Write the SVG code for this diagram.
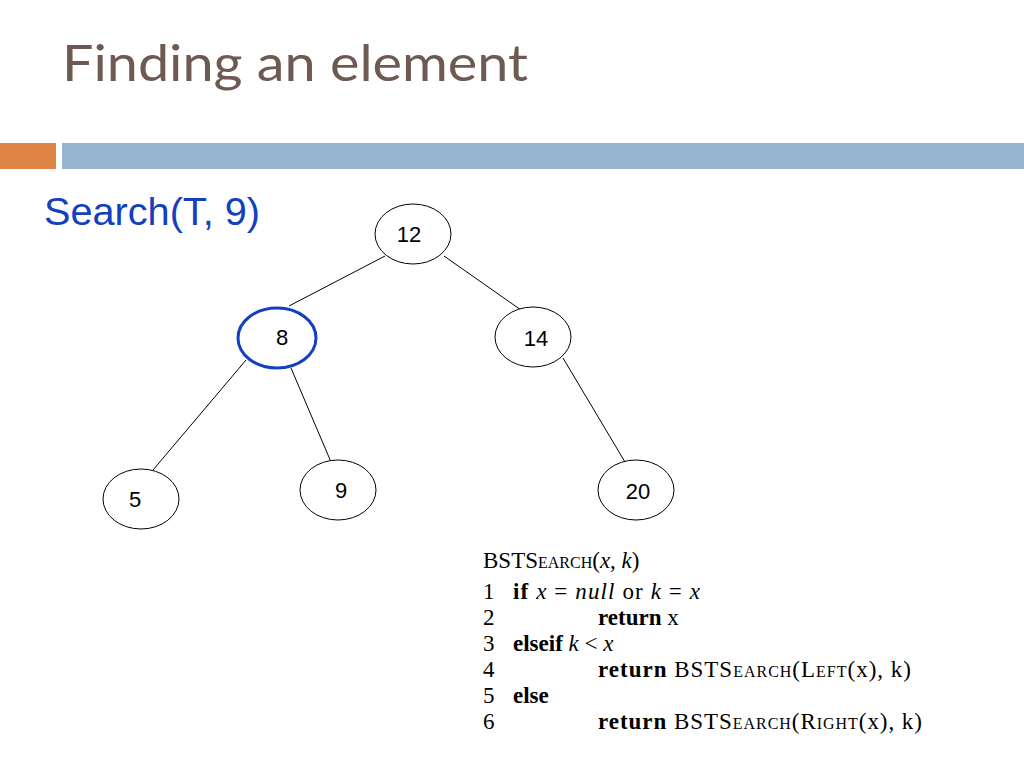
<svg xmlns="http://www.w3.org/2000/svg" width="1024" height="768" viewBox="0 0 1024 768">
<style>
.n ellipse{fill:#fff;stroke:#000;stroke-width:1}
.n text{font-family:"Liberation Sans",Arial,sans-serif;font-size:22px;text-anchor:middle;fill:#000}
.c line{stroke:#000;stroke-width:1}
.p{font-family:"Liberation Serif","Times New Roman",serif;font-size:23px;fill:#000}
.b{font-weight:bold}
.sc{font-size:16px}
</style>
<rect width="1024" height="768" fill="#fff"/>
<text x="62" y="81" font-family="'URW Gothic','Lato','DejaVu Sans',sans-serif" font-size="50" fill="#6e5a52" textLength="466" lengthAdjust="spacingAndGlyphs">Finding an element</text>
<rect x="0" y="143" width="56" height="26" fill="#df8445"/>
<rect x="62" y="143" width="962" height="26" fill="#95b5d3"/>
<text x="44" y="225" font-family="'Liberation Sans',Arial,sans-serif" font-size="38" fill="#1440c0" textLength="216" lengthAdjust="spacingAndGlyphs">Search(T, 9)</text>
<g class="c">
<line x1="385" y1="256" x2="289" y2="306"/>
<line x1="444" y1="256" x2="521" y2="310"/>
<line x1="246" y1="360" x2="153" y2="470"/>
<line x1="291" y1="368" x2="331" y2="462"/>
<line x1="563" y1="358" x2="625" y2="462"/>
</g>
<g id="n12" class="n"><ellipse cx="413" cy="234" rx="38" ry="30"/><text x="409" y="242">12</text></g>
<g id="n8" class="n"><ellipse cx="277" cy="338" rx="39" ry="30" style="stroke:#1440c0;stroke-width:3"/><text x="282" y="345">8</text></g>
<g id="n14" class="n"><ellipse cx="533" cy="337" rx="38" ry="30"/><text x="536" y="346">14</text></g>
<g id="n5" class="n"><ellipse cx="141" cy="499" rx="38" ry="30"/><text x="135" y="507">5</text></g>
<g id="n9" class="n"><ellipse cx="338" cy="490" rx="38" ry="30"/><text x="341" y="498">9</text></g>
<g id="n20" class="n"><ellipse cx="636" cy="490" rx="38" ry="30"/><text x="638" y="499">20</text></g>
<g class="p">
<text x="483" y="568">BSTS<tspan class="sc">EARCH</tspan>(<tspan font-style="italic">x</tspan>, <tspan font-style="italic">k</tspan>)</text>
<text x="483" y="599">1</text><text x="513" y="599" textLength="187"><tspan class="b">if</tspan> <tspan font-style="italic">x</tspan> = <tspan font-style="italic">null</tspan> or <tspan font-style="italic">k</tspan> = <tspan font-style="italic">x</tspan></text>
<text x="483" y="625">2</text><text x="598" y="625"><tspan class="b">return</tspan> x</text>
<text x="483" y="651">3</text><text x="513" y="651"><tspan class="b">elseif</tspan> <tspan font-style="italic">k</tspan> &lt; <tspan font-style="italic">x</tspan></text>
<text x="483" y="677">4</text><text x="598" y="677" textLength="313"><tspan class="b">return</tspan> BSTS<tspan class="sc">EARCH</tspan>(L<tspan class="sc">EFT</tspan>(x), k)</text>
<text x="483" y="703">5</text><text x="513" y="703" class="b">else</text>
<text x="483" y="729">6</text><text x="598" y="729" textLength="324"><tspan class="b">return</tspan> BSTS<tspan class="sc">EARCH</tspan>(R<tspan class="sc">IGHT</tspan>(x), k)</text>
</g>
</svg>
